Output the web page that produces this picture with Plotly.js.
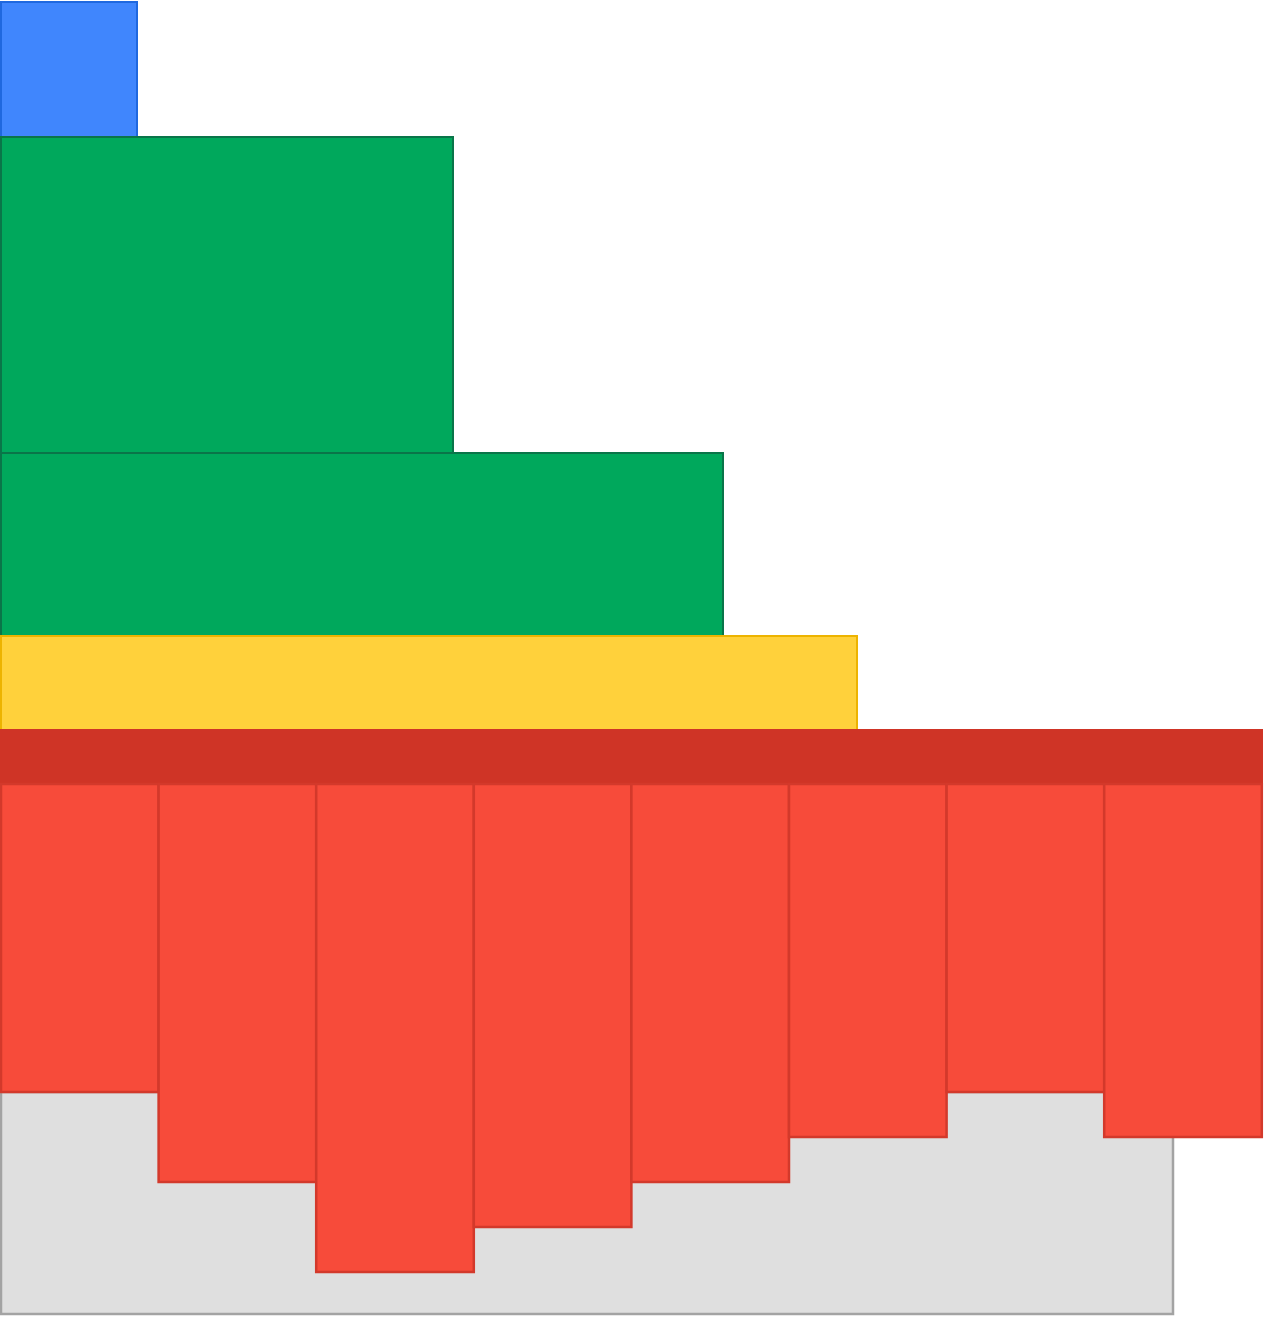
<!DOCTYPE html>
<html>
<head>
<meta charset="utf-8">
<script src="https://cdn.plot.ly/plotly-3.0.1.min.js"></script>
<style>html,body{margin:0;padding:0;background:#fff;}#chart{width:1276px;height:1324px;}</style>
</head>
<body>
<div id="chart"></div>
<script>
// Upper tiers: horizontal blocks growing from the left edge (units = px of chart frame)
const tierNames   = ["Blue", "Green A", "Green B", "Yellow", "Band"];
const tierLength  = [136, 452, 722, 856, 1261];
const tierTop     = [2, 137, 453, 636, 730];
const tierBottom  = [137, 453, 636, 730, 784];
const tierFill    = ["#4086FD", "#00A85C", "#00A85C", "#FFD13B", "#CF3426"];
const tierEdge    = ["#1F68DF", "#0A7549", "#0A7549", "#EDB300", "#CF3426"];

// Lower columns hanging from the band
const colNames    = ["C1", "C2", "C3", "C4", "C5", "C6", "C7", "C8"];
const colTop      = 784;
const colBottom   = [1092, 1182, 1272, 1227, 1182, 1137, 1092, 1137];
const colStart    = 1;
const colWidth    = 157.6;

// Gray base plate
const baseLength  = 1172;
const baseTop     = 1092;
const baseBottom  = 1314;

const traces = [];

// Gray base (drawn first, behind columns)
traces.push({
  type: "bar", orientation: "h",
  x: [baseLength], base: [1],
  y: [(baseTop + baseBottom) / 2], width: [baseBottom - baseTop],
  marker: {color: "#DFDFDF", line: {color: "#A3A3A3", width: 2.5}},
  hoverinfo: "skip", showlegend: false
});

// Tiers
traces.push({
  type: "bar", orientation: "h",
  x: tierLength, base: tierLength.map(() => 1),
  y: tierTop.map((t, i) => (t + tierBottom[i]) / 2),
  width: tierTop.map((t, i) => tierBottom[i] - t),
  text: tierNames, textposition: "none",
  marker: {color: tierFill, line: {color: tierEdge, width: 2}},
  hoverinfo: "text", showlegend: false
});

// Columns
traces.push({
  type: "bar",
  x: colNames.map((_, i) => colStart + colWidth * (i + 0.5)),
  y: colBottom.map(b => b - colTop), base: colBottom.map(() => colTop),
  width: colNames.map(() => colWidth),
  text: colNames, textposition: "none",
  marker: {color: "#F74B3A", line: {color: "#D3392B", width: 2.5}},
  hoverinfo: "text", showlegend: false
});

const layout = {
  width: 1276, height: 1324,
  margin: {l: 0, r: 0, t: 0, b: 0, pad: 0},
  paper_bgcolor: "#fff", plot_bgcolor: "#fff",
  barmode: "overlay", showlegend: false,
  xaxis: {range: [0, 1276], visible: false, fixedrange: true},
  yaxis: {range: [1324, 0], visible: false, fixedrange: true}
};

Plotly.newPlot("chart", traces, layout, {displayModeBar: false, staticPlot: true});
</script>
</body>
</html>
